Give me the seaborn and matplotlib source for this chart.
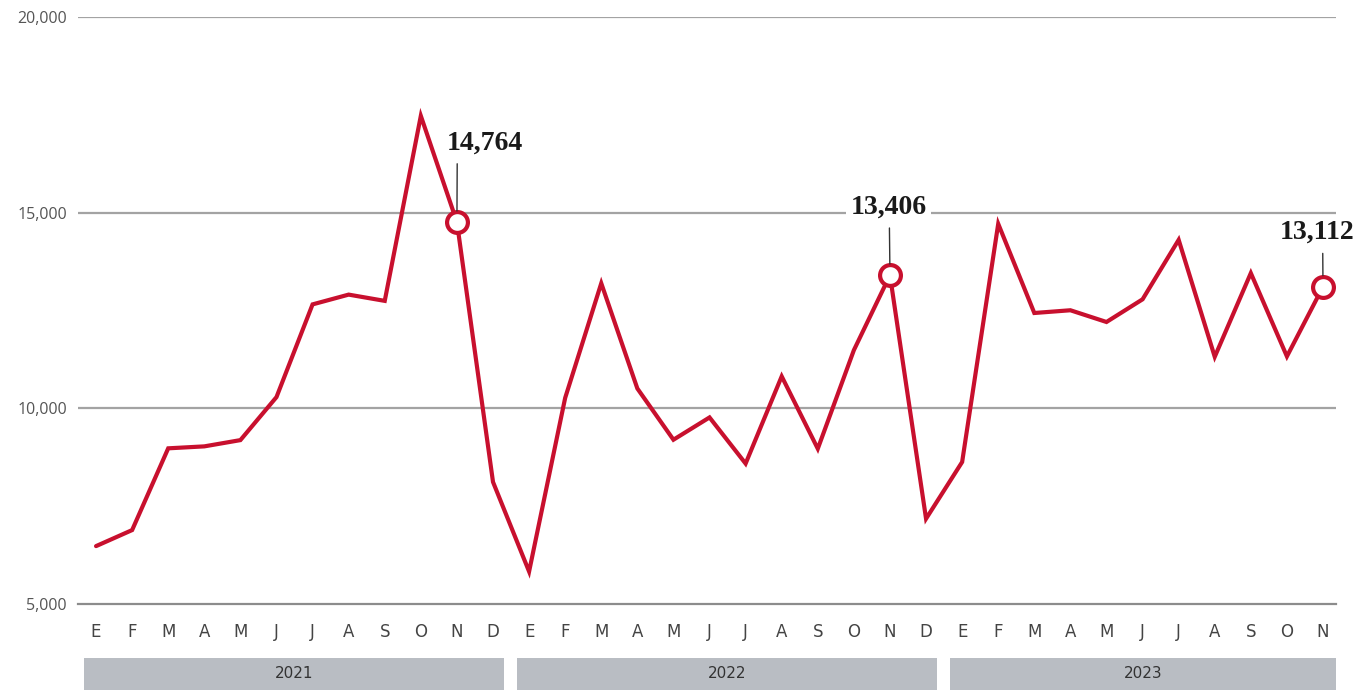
import matplotlib
matplotlib.use("Agg")
import matplotlib.pyplot as plt
import seaborn as sns
import pandas as pd

# monthly values
years = ["2021", "2022", "2023"]
month_letters = ["E", "F", "M", "A", "M", "J", "J", "A", "S", "O", "N", "D"]
values_2021 = [6480, 6890, 8980, 9030, 9190, 10290, 12660, 12910, 12750, 17480, 14764, 8120]
values_2022 = [5830, 10270, 13200, 10510, 9200, 9770, 8590, 10820, 8970, 11490, 13406, 7180]
values_2023 = [8630, 14720, 12440, 12510, 12210, 12790, 14310, 11320, 13460, 11330, 13112]
highlight_idx = [10, 22, 34]
highlight_text = ["14,764", "13,406", "13,112"]
y_ticks = [5000, 10000, 15000, 20000]
y_tick_labels = ["5,000", "10,000", "15,000", "20,000"]

RED = "#c8102e"
GRID = "#a3a3a3"

series = [values_2021, values_2022, values_2023]
rows = []
for yr, vals in zip(years, series):
    for m, v in enumerate(vals):
        rows.append({"year": yr, "label": month_letters[m], "value": v})
df = pd.DataFrame(rows)
df["idx"] = range(len(df))

sns.set_style("white")
plt.rcParams["font.family"] = ["Open Sans", "DejaVu Sans"]

fig = plt.figure(figsize=(13.64, 6.92), dpi=100)
W, H = 1364, 692
left, right = 78 / W, 1336 / W
ax = fig.add_axes([left, 1 - 604 / H, right - left, (604 - 17.3) / H])

XMAX = 34.36
ax.set_xlim(-0.5, XMAX)
ax.set_ylim(5000, 20000)

for yv in y_ticks[1:]:
    ax.axhline(yv, color=GRID, lw=1.6, zorder=1)

sns.lineplot(data=df, x="idx", y="value", ax=ax, color=RED, lw=3.0,
             solid_joinstyle="miter", zorder=3, legend=False)

hl = df.loc[highlight_idx]
ax.plot(hl["idx"], hl["value"], "o", ms=15, mfc="white", mec=RED, mew=3.0,
        zorder=4, clip_on=False)

# callout labels with leader lines
offsets = [(20, 48), (-1, 40), (-4, 30)]
relx = [0.14, 0.51, 0.57]
for i, txt, off, rx in zip(highlight_idx, highlight_text, offsets, relx):
    ax.annotate(txt, xy=(df.loc[i, "idx"], df.loc[i, "value"]),
                xytext=off, textcoords="offset points", ha="center", va="bottom",
                fontsize=20, fontweight="bold", family=["Liberation Serif", "DejaVu Serif"],
                color="#1a1a1a", zorder=5,
                bbox=dict(boxstyle="square,pad=0.15", fc="white", ec="none"),
                arrowprops=dict(arrowstyle="-", color="#333333", lw=1.0,
                                shrinkA=3, shrinkB=8, relpos=(rx, 0)))

for s in ["top", "right", "left"]:
    ax.spines[s].set_visible(False)
ax.spines["bottom"].set_color("#8c8c8c")
ax.spines["bottom"].set_linewidth(1.6)

ax.set_yticks(y_ticks)
ax.set_yticklabels(y_tick_labels)
ax.tick_params(axis="y", length=0, pad=8, labelsize=11.5, labelcolor="#555555")

ax.set_xticks(df["idx"])
ax.set_xticklabels(df["label"], family=["Liberation Sans Narrow", "DejaVu Sans"])
ax.tick_params(axis="x", direction="in", length=9.5, width=1.3, color="#555555",
               pad=14, labelsize=12, labelcolor="#444444")
ax.set_xlabel("")
ax.set_ylabel("")
ax.grid(False)

# year band under the month axis
ax2 = fig.add_axes([left, 1 - 690 / H, right - left, 32 / H])
ax2.set_xlim(ax.get_xlim())
ax2.set_ylim(0, 1)
ax2.axis("off")
for k, yr in enumerate(years):
    sub = df[df["year"] == yr]
    x0 = sub["idx"].min() - 0.33
    x1 = XMAX if k == len(years) - 1 else sub["idx"].max() + 0.3
    ax2.axvspan(x0, x1, color="#b9bdc3", lw=0)
    ax2.text((x0 + x1) / 2, 0.5, yr, ha="center", va="center", fontsize=11,
             color="#333333", family=["Liberation Sans Narrow", "DejaVu Sans"])

fig.savefig("out.png", dpi=100)
